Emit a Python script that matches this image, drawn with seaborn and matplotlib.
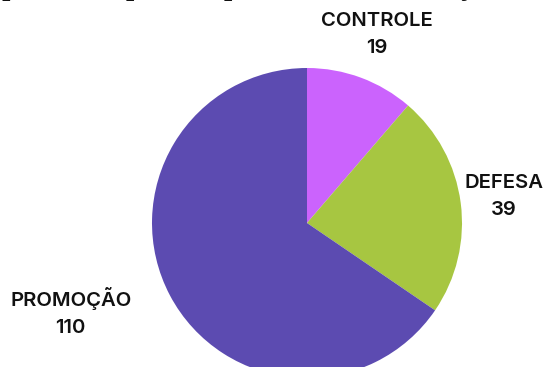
import matplotlib
matplotlib.use("Agg")
import matplotlib.pyplot as plt
import seaborn as sns

categories = ["CONTROLE", "DEFESA", "PROMOÇÃO"]
values = [19, 39, 110]
colors = ["#CB63FD", "#A7C641", "#5C4BB1"]
title = "Mapeamento por campo temático de atuação"

sns.set_theme(style="white")
plt.rcParams["font.family"] = ["Inter", "DejaVu Sans"]

W, H = 545, 367
fig = plt.figure(figsize=(W / 100, H / 100), dpi=100)
cx, cy, r = 307, 223, 155
ax = fig.add_axes([(cx - r) / W, (H - cy - r) / H, 2 * r / W, 2 * r / H])
ax.pie(values, colors=colors, startangle=90, counterclock=False,
       radius=1, wedgeprops=dict(linewidth=0))
ax.set_xlim(-1, 1)
ax.set_ylim(-1, 1)
ax.set_aspect("equal")
ax.axis("off")

label_pos = [(0.45, 1.215), (1.268, 0.17), (-1.525, -0.575)]
for cat, val, (x, y) in zip(categories, values, label_pos):
    ax.text(x, y, f"{cat}\n{val}", ha="center", va="center",
            fontsize=14.6, fontweight="semibold", color="#111111",
            linespacing=1.6, clip_on=False)

fig.text(-36 / W, 1.0 + 5.2 / H, title, ha="left", va="baseline",
         fontsize=21, fontweight="bold", fontstyle="italic",
         family=["Liberation Serif", "DejaVu Serif"], color="#111111")

fig.savefig("out.png", dpi=100)
